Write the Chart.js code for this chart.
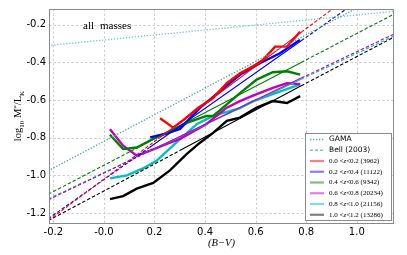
<!DOCTYPE html>
<html>
<head>
<meta charset="utf-8">
<script src="https://cdn.jsdelivr.net/npm/chart.js@4"></script>
<style>
  html, body { margin: 0; padding: 0; background: #fff; }
  #wrap { width: 407px; height: 255px; position: relative; }
</style>
</head>
<body>
<div id="wrap"><canvas id="c" width="407" height="255"></canvas></div>
<script>
// axis ranges and ticks
const xRange = [-0.217, 1.147];
const yRange = [-1.258, -0.116];
const xTicks = [-0.2, 0.0, 0.2, 0.4, 0.6, 0.8, 1.0];
const xTickLabels = ['-0.2', '-0.0', '0.2', '0.4', '0.6', '0.8', '1.0'];
const yTicks = [-1.2, -1.0, -0.8, -0.6, -0.4, -0.2];
const yTickLabels = ['-1.2', '-1.0', '-0.8', '-0.6', '-0.4', '-0.2'];

// reference relations
const gamaLine = [[-0.22, -0.975], [1.15, -0.005]];
const bellLine = [[-0.22, -0.31], [1.15, -0.128]];

// binned (B-V, log M/L) per redshift slice
const zRed = [[0.222, -0.696], [0.274, -0.746], [0.32, -0.70], [0.372, -0.642], [0.432, -0.589], [0.486, -0.51],
  [0.538, -0.457], [0.59, -0.42], [0.63, -0.385], [0.677, -0.316], [0.724, -0.316], [0.776, -0.237]];
const zBlue = [[0.183, -0.798], [0.24, -0.78], [0.301, -0.753], [0.38, -0.641], [0.459, -0.553], [0.538, -0.465],
  [0.617, -0.404], [0.696, -0.351], [0.775, -0.28]];
const zGreen = [[0.024, -0.784], [0.076, -0.86], [0.13, -0.852], [0.195, -0.806], [0.27, -0.76], [0.33, -0.72],
  [0.406, -0.684], [0.432, -0.684], [0.486, -0.623], [0.538, -0.563], [0.604, -0.491], [0.668, -0.452],
  [0.724, -0.447], [0.776, -0.465]];
const zMagenta = [[0.024, -0.755], [0.076, -0.842], [0.13, -0.895], [0.183, -0.868], [0.249, -0.832], [0.301, -0.806],
  [0.406, -0.727], [0.486, -0.64], [0.538, -0.605], [0.604, -0.568], [0.668, -0.535], [0.724, -0.51], [0.776, -0.515]];
const zCyan = [[0.024, -1.016], [0.091, -1.0], [0.155, -0.963], [0.209, -0.921], [0.301, -0.807], [0.367, -0.728],
  [0.432, -0.684], [0.538, -0.642], [0.59, -0.605], [0.668, -0.568], [0.776, -0.516]];
const zBlack = [[0.024, -1.126], [0.076, -1.11], [0.13, -1.07], [0.195, -1.04], [0.261, -0.973], [0.328, -0.885],
  [0.38, -0.826], [0.432, -0.774], [0.486, -0.71], [0.538, -0.693], [0.604, -0.64], [0.668, -0.605],
  [0.724, -0.615], [0.776, -0.579]];

// linear fits: left edge, start of fit range, end of fit range, right edge
const fitRed = [[-0.22, -1.24], [0.22, -0.80], [0.78, -0.24], [1.15, 0.13]];
const fitBlue = [[-0.22, -1.23], [0.18, -0.852], [0.78, -0.285], [1.15, 0.065]];
const fitGreen = [[-0.22, -1.10], [0.2, -0.806], [0.78, -0.40], [1.15, -0.141]];
const fitMagenta = [[-0.22, -1.13], [0.2, -0.858], [0.78, -0.483], [1.15, -0.247]];
const fitCyan = [[-0.22, -1.125], [0.2, -0.858], [0.78, -0.489], [1.15, -0.258]];
const fitBlack = [[-0.22, -1.24], [0.3, -0.868], [0.78, -0.524], [1.15, -0.263]];

const sliceNames = ['0.0', '0.2', '0.4', '0.6', '0.8', '1.0'];
const sliceEnds = ['0.2', '0.4', '0.6', '0.8', '1.0', '1.2'];
const sliceCounts = ['3962', '11122', '9342', '20234', '21156', '13286'];
const sliceColors = ['#ff0000', '#0000ff', '#008000', '#bf00bf', '#00bfbf', '#000000'];
const sliceData = [zRed, zBlue, zGreen, zMagenta, zCyan, zBlack];
const sliceFits = [fitRed, fitBlue, fitGreen, fitMagenta, fitCyan, fitBlack];

const gamaColor = '#4aa6a6';
const bellColor = '#6fcaca';

const pts = arr => arr.map(p => ({ x: p[0], y: p[1] }));

const datasets = [];
datasets.push({ data: pts(gamaLine), borderColor: gamaColor, borderWidth: 1.3, borderDash: [1.3, 1.7] });
datasets.push({ data: pts(bellLine), borderColor: bellColor, borderWidth: 1.3, borderDash: [1.3, 1.7] });
sliceFits.forEach((f, i) => {
  datasets.push({
    data: pts(f), borderColor: sliceColors[i], borderWidth: 1.1,
    segment: { borderDash: ctx => (ctx.p0DataIndex === 1 ? [] : [3.5, 2]) }
  });
});
sliceData.forEach((d, i) => {
  datasets.push({ data: pts(d), borderColor: sliceColors[i], borderWidth: 2.4 });
});

const serif = '"Liberation Serif", "DejaVu Serif", serif';
const sans = '"DejaVu Sans", sans-serif';

// dashed grid drawn under the data
const grid = {
  id: 'grid',
  beforeDatasetsDraw(chart) {
    const c = chart.ctx, a = chart.chartArea;
    const sx = chart.scales.x, sy = chart.scales.y;
    c.save();
    c.strokeStyle = '#c4c4c4';
    c.lineWidth = 0.8;
    c.setLineDash([2.5, 2]);
    c.beginPath();
    xTicks.forEach(v => { const p = Math.round(sx.getPixelForValue(v)) + 0.5; c.moveTo(p, a.top); c.lineTo(p, a.bottom); });
    yTicks.forEach(v => { const p = Math.round(sy.getPixelForValue(v)) + 0.5; c.moveTo(a.left, p); c.lineTo(a.right, p); });
    c.stroke();
    c.restore();
  }
};

const decor = {
  id: 'decor',
  afterDraw(chart) {
    const c = chart.ctx;
    const a = chart.chartArea;
    c.save();
    // plot frame
    c.strokeStyle = '#8a8a8a';
    c.lineWidth = 1;
    c.strokeRect(a.left + 0.5, a.top + 0.5, a.right - a.left - 1, a.bottom - a.top - 1);

    // panel label
    c.fillStyle = '#000';
    c.font = '11px ' + serif;
    c.textBaseline = 'alphabetic';
    c.fillText('all', 83, 29);
    c.fillText('masses', 100, 29);

    // x title
    c.font = 'italic 10.5px ' + serif;
    c.textAlign = 'center';
    c.fillText('(B\u2212V)', (a.left + a.right) / 2, 246);

    // y title with subscripts
    c.translate(21, 116);
    c.rotate(-Math.PI / 2);
    const parts = [
      ['log', '10.5px ' + serif, 0], ['10', '7px ' + serif, 3], [' M', '10.5px ' + serif, 0],
      ['*', '7px ' + serif, -3], ['/L', '10.5px ' + serif, 0], ['K', '7px ' + serif, 3]
    ];
    let w = 0;
    parts.forEach(p => { c.font = p[1]; w += c.measureText(p[0]).width; });
    let px = -w / 2;
    c.textAlign = 'left';
    parts.forEach(p => { c.font = p[1]; c.fillText(p[0], px, p[2]); px += c.measureText(p[0]).width; });
    c.setTransform(1, 0, 0, 1, 0, 0);

    // legend
    const lx = 305, ly = 133, lw = 86, lh = 87;
    c.fillStyle = '#fff';
    c.fillRect(lx, ly, lw, lh);
    c.strokeStyle = '#8a8a8a';
    c.strokeRect(lx + 0.5, ly + 0.5, lw, lh);
    const rowY = i => 139.5 + i * 10.75;
    const line = (i, color, width, dash, alpha) => {
      c.save();
      c.globalAlpha = alpha;
      c.strokeStyle = color; c.lineWidth = width; c.setLineDash(dash);
      c.beginPath(); c.moveTo(310, rowY(i)); c.lineTo(324, rowY(i)); c.stroke();
      c.restore();
    };
    line(0, gamaColor, 1.5, [1.3, 1.7], 1);
    line(1, bellColor, 1.5, [3, 2], 1);
    c.fillStyle = '#000';
    c.textBaseline = 'middle';
    c.font = '7.5px ' + sans;
    c.fillText('GAMA', 329, rowY(0));
    c.fillText('Bell (2003)', 329, rowY(1));
    sliceNames.forEach((n, i) => {
      const r = i + 2;
      line(r, sliceColors[i], 2.2, [], 0.5);
      let tx = 329;
      const seg = (t, f) => { c.font = f; c.fillText(t, tx, rowY(r)); tx += c.measureText(t).width; };
      seg(n + ' ', '7px ' + serif);
      seg('<', '7px ' + serif);
      seg('z', 'italic 7px ' + serif);
      seg('<', '7px ' + serif);
      seg(sliceEnds[i] + ' (' + sliceCounts[i] + ')', '7px ' + serif);
    });
    c.restore();
  }
};

new Chart(document.getElementById('c'), {
  type: 'scatter',
  data: { datasets },
  options: {
    responsive: false,
    animation: false,
    showLine: true,
    elements: { point: { radius: 0 }, line: { tension: 0, fill: false } },
    layout: { padding: { top: 7, right: 13, left: 0, bottom: 0 } },
    plugins: { legend: { display: false }, tooltip: { enabled: false } },
    scales: {
      x: {
        type: 'linear', min: xRange[0], max: xRange[1],
        afterBuildTicks: s => { s.ticks = xTicks.map(v => ({ value: v })); },
        afterFit: s => { s.height = 31; },
        grid: { display: false, drawTicks: false },
        border: { display: false },
        ticks: {
          color: '#000', padding: 2, maxRotation: 0, autoSkip: false,
          font: { family: 'DejaVu Sans', size: 10 },
          callback: v => xTickLabels[xTicks.findIndex(t => Math.abs(t - v) < 1e-6)]
        }
      },
      y: {
        type: 'linear', min: yRange[0], max: yRange[1],
        afterBuildTicks: s => { s.ticks = yTicks.map(v => ({ value: v })); },
        afterFit: s => { s.width = 49; },
        grid: { display: false, drawTicks: false },
        border: { display: false },
        ticks: {
          color: '#000', padding: 3, autoSkip: false,
          font: { family: 'DejaVu Sans', size: 10 },
          callback: v => yTickLabels[yTicks.findIndex(t => Math.abs(t - v) < 1e-6)]
        }
      }
    }
  },
  plugins: [grid, decor]
});
</script>
</body>
</html>
